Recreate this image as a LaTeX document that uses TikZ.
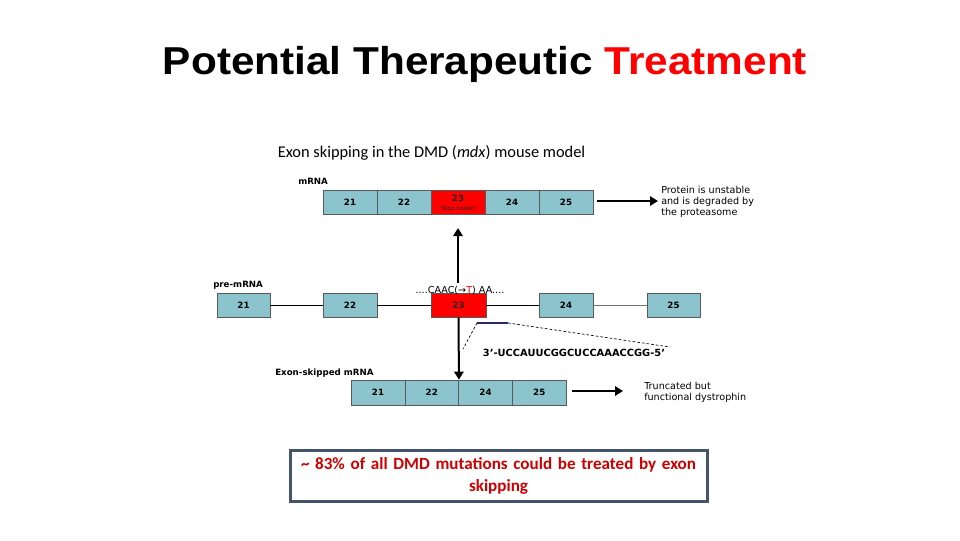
\documentclass[tikz,border=0pt]{standalone}
\usepackage{fontspec}
\setmainfont{Carlito}
\newfontfamily\titlefont{Liberation Sans}
\newfontfamily\dfont{DejaVu Sans}
\usetikzlibrary{arrows.meta}
\definecolor{exon}{RGB}{139,196,204}
\definecolor{stopred}{RGB}{255,0,0}
\definecolor{boxedge}{RGB}{68,84,106}
\definecolor{msgred}{RGB}{204,0,0}
\definecolor{aso}{RGB}{40,40,110}
\tikzset{
  exonbox/.style={draw=black!65, fill=exon, minimum width=40.5pt, minimum height=18pt,
    inner sep=0pt, line width=0.5pt, font=\dfont\bfseries\fontsize{6.5}{7}\selectfont},
  redbox/.style={exonbox, fill=stopred},
  rowlabel/.style={anchor=west, inner sep=0pt, font=\dfont\bfseries\fontsize{6.5}{7}\selectfont},
  note/.style={anchor=west, inner sep=0pt, align=left, font=\dfont\fontsize{7.2}{8.25}\selectfont},
  bigarrow/.style={line width=1.5pt, -{Triangle[length=6pt,width=7pt]}},
  intron/.style={line width=0.6pt, black}
}
\begin{document}
\begin{tikzpicture}[x=0.75pt,y=-0.75pt]
\useasboundingbox[fill=white] (0,0) rectangle (960,540);

% title
\node (title) at (485,64) {\scalebox{1.175}[1.08]{\titlefont\bfseries\fontsize{27}{32}\selectfont Potential Therapeutic \textcolor{stopred}{Treatment}}};

% caption
\node (caption) at (431.5,153) {\fontsize{12.3}{14}\selectfont Exon skipping in the DMD (\textit{mdx}) mouse model};

% mRNA row
\node[rowlabel] (lm) at (298,181) {mRNA};
\node[exonbox] (m21) at (350,202) {21};
\node[exonbox] (m22) at (404,202) {22};
\node[redbox] (m23) at (458,202) {};
\node[inner sep=0pt, font=\dfont\bfseries\fontsize{6.5}{7}\selectfont, text=black!85] (m23n) at (458,198.5) {23};
\node[inner sep=0pt, font=\dfont\fontsize{4.3}{5}\selectfont, text=black!85] (m23s) at (458,209) {"Stop codon"};
\node[exonbox] (m24) at (512,202) {24};
\node[exonbox] (m25) at (566,202) {25};
\coordinate (mEnd) at (658,201);
\draw[bigarrow] ([xshift=3pt]m25.east |- mEnd) -- (mEnd);
\node[note] (n1) at (661,202) {Protein is unstable\\and is degraded by\\the proteasome};

% pre-mRNA row
\node[rowlabel] (lp) at (213,285) {pre-mRNA};
\node[exonbox, minimum width=39.75pt] (p21) at (243.5,305) {21};
\node[exonbox] (p22) at (350,305) {22};
\node[redbox, minimum width=41.25pt, text=black!85] (p23) at (458.5,305) {23};
\node[exonbox] (p24) at (566,305) {24};
\node[exonbox, minimum width=39.75pt] (p25) at (673.5,305) {25};
\draw[intron] (p21.east) -- (p22.west);
\draw[intron] (p22.east) -- (p23.west);
\draw[intron] (p23.east) -- (p24.west);
\draw[intron, black!55] (p24.east) -- (p25.west);
\node[inner sep=0pt, font=\dfont\fontsize{7.2}{8}\selectfont] (caac) at (460,290) {....CAAC(→\textcolor{stopred}{T}) AA....};

% arrow up to the mRNA
\coordinate (upStart) at (458,283);
\coordinate (upTip) at (458,228);
\draw[bigarrow] (upStart) -- (upTip);

% ASO
\coordinate (a1) at (477,323);
\coordinate (a2) at (508,323);
\coordinate (d1) at (463,349);
\coordinate (d2) at (670,347);
\draw[aso, line width=1.2pt] (a1) -- (a2);
\draw[line width=0.5pt, dash pattern=on 2pt off 1.5pt] (a1) -- (d1);
\draw[line width=0.5pt, dash pattern=on 2pt off 1.5pt] (a2) -- (d2);
\node[inner sep=0pt, font=\dfont\bfseries\fontsize{7.4}{8}\selectfont] (asotext) at (574,353) {3’-UCCAUUCGGCUCCAAACCGG-5’};

% exon-skipped row
\node[rowlabel] (le) at (275,373) {Exon-skipped mRNA};
\node[exonbox, minimum width=40.3pt, minimum height=18.75pt] (e21) at (378,392.5) {21};
\node[exonbox, minimum width=40.3pt, minimum height=18.75pt] (e22) at (431.75,392.5) {22};
\node[exonbox, minimum width=40.3pt, minimum height=18.75pt] (e24) at (485.5,392.5) {24};
\node[exonbox, minimum width=40.3pt, minimum height=18.75pt] (e25) at (539.25,392.5) {25};
\draw[bigarrow] (p23.south) -- (e22.north east);
\coordinate (eEnd) at (623,391);
\draw[bigarrow] ([xshift=4pt]e25.east |- eEnd) -- (eEnd);
\node[note] (n2) at (644,392) {Truncated but\\functional dystrophin};

% bottom message
\node[draw=boxedge, line width=2.25pt, minimum width=312.75pt, minimum height=38.25pt,
      inner sep=0pt, text width=310pt, align=center, text=msgred,
      font=\bfseries\fontsize{12.8}{16.5}\selectfont] (msg) at (498.5,475.5)
  {\textasciitilde\ 83\% of all DMD mutations could be treated by exon\\skipping};
\end{tikzpicture}
\end{document}
